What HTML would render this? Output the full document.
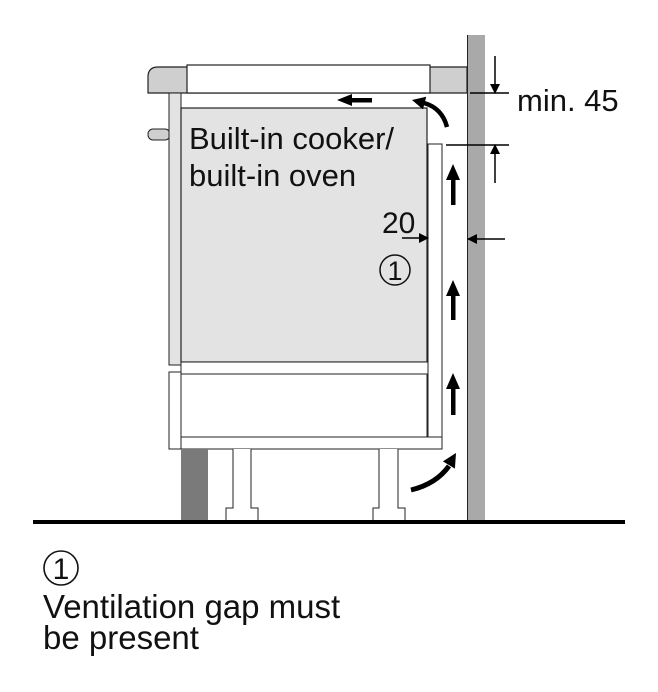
<!DOCTYPE html>
<html><head><style>
html,body{margin:0;padding:0;background:#fff;}
svg{display:block;}
text{font-family:"Liberation Sans",Arial,sans-serif;fill:#111;}
</style></head><body>
<svg width="658" height="692" viewBox="0 0 658 692" xmlns="http://www.w3.org/2000/svg">
<defs>
<marker id="ah" markerWidth="10" markerHeight="10" refX="9" refY="5" orient="auto" markerUnits="userSpaceOnUse">
<path d="M0,0 L10,5 L0,10 z" fill="#000"/></marker>
</defs>
<!-- wall -->
<rect x="467" y="35" width="18" height="487" fill="#a9a9a9"/>
<line x1="467.5" y1="35" x2="467.5" y2="522" stroke="#222" stroke-width="1"/>
<!-- hob -->
<path d="M158,67 H467 V93 H148 V77 Q148,67 158,67 z" fill="#cfcfcf" stroke="#222" stroke-width="1.2"/>
<rect x="187" y="65" width="243" height="28" fill="#fff" stroke="#222" stroke-width="1.2"/>
<!-- knob -->
<rect x="148" y="129" width="22" height="11" rx="5" fill="#cfcfcf" stroke="#222"/>
<!-- left panel -->
<rect x="169" y="93" width="12" height="272" fill="#e3e3e3" stroke="#222"/>
<!-- oven body -->
<rect x="181" y="108" width="246" height="254" fill="#e3e3e3" stroke="#222" stroke-width="1.2"/>
<rect x="181" y="362" width="247" height="12" fill="#fff" stroke="#222"/>
<rect x="181" y="374" width="246" height="63" fill="#fff" stroke="#222"/>
<rect x="169" y="372" width="12" height="77" fill="#fff" stroke="#222"/>
<rect x="428" y="144" width="14" height="293" fill="#fff" stroke="#222"/>
<rect x="181" y="437" width="261" height="12" fill="#fff" stroke="#222"/>
<!-- plinth -->
<rect x="181" y="449" width="27" height="72" fill="#7a7a7a"/>
<!-- feet -->
<path d="M233,449 V508 H226 V521 H258 V508 H251 V449" fill="#fff" stroke="#222"/>
<path d="M379,449 V508 H373 V521 H405 V508 H398 V449" fill="#fff" stroke="#222"/>
<!-- floor -->
<rect x="33" y="520" width="592" height="4" fill="#000"/>
<!-- airflow arrows -->
<g fill="#000">
<rect x="451" y="385" width="4.5" height="30"/><polygon points="446,389 453,373 460,389"/>
<rect x="451" y="292" width="4.5" height="28"/><polygon points="446,296 453,280 460,296"/>
<rect x="451" y="176" width="4.5" height="29"/><polygon points="446,180 453,164 460,180"/>
<rect x="349" y="98" width="23" height="4.5"/><polygon points="337,100 352,94 352,106"/>
<polygon points="412,100 426.2,96.8 423,109.4"/>
<polygon points="456,453 454.9,468.6 442.9,461.4"/>
</g>
<path d="M447,127 Q442,108 424,103" fill="none" stroke="#000" stroke-width="4.5"/>
<path d="M411,490 Q436,484 449,466" fill="none" stroke="#000" stroke-width="5"/>
<!-- dims -->
<line x1="470" y1="93" x2="509" y2="93" stroke="#000" stroke-width="1.5"/>
<line x1="446" y1="145" x2="509" y2="145" stroke="#000" stroke-width="1.5"/>
<line x1="495" y1="56" x2="495" y2="93" stroke="#000" stroke-width="1.5" marker-end="url(#ah)"/>
<line x1="495" y1="183" x2="495" y2="145" stroke="#000" stroke-width="1.5" marker-end="url(#ah)"/>
<line x1="402" y1="238" x2="428" y2="238" stroke="#000" stroke-width="1.5" marker-end="url(#ah)"/>
<line x1="505" y1="239" x2="468" y2="239" stroke="#000" stroke-width="1.5" marker-end="url(#ah)"/>
<!-- labels -->
<text x="517" y="111" font-size="31">min. 45</text>
<text x="189" y="149" font-size="31">Built-in cooker/</text>
<text x="189" y="186" font-size="31">built-in oven</text>
<text x="382" y="233" font-size="30">20</text>
<circle cx="395" cy="270" r="15" fill="none" stroke="#111" stroke-width="1.5"/>
<text x="395" y="280" font-size="27" text-anchor="middle">1</text>
<circle cx="61" cy="568" r="17" fill="none" stroke="#111" stroke-width="1.6"/>
<text x="61" y="579" font-size="30" text-anchor="middle">1</text>
<text x="43" y="618" font-size="33">Ventilation gap must</text>
<text x="43" y="649" font-size="33">be present</text>
</svg>
</body></html>
